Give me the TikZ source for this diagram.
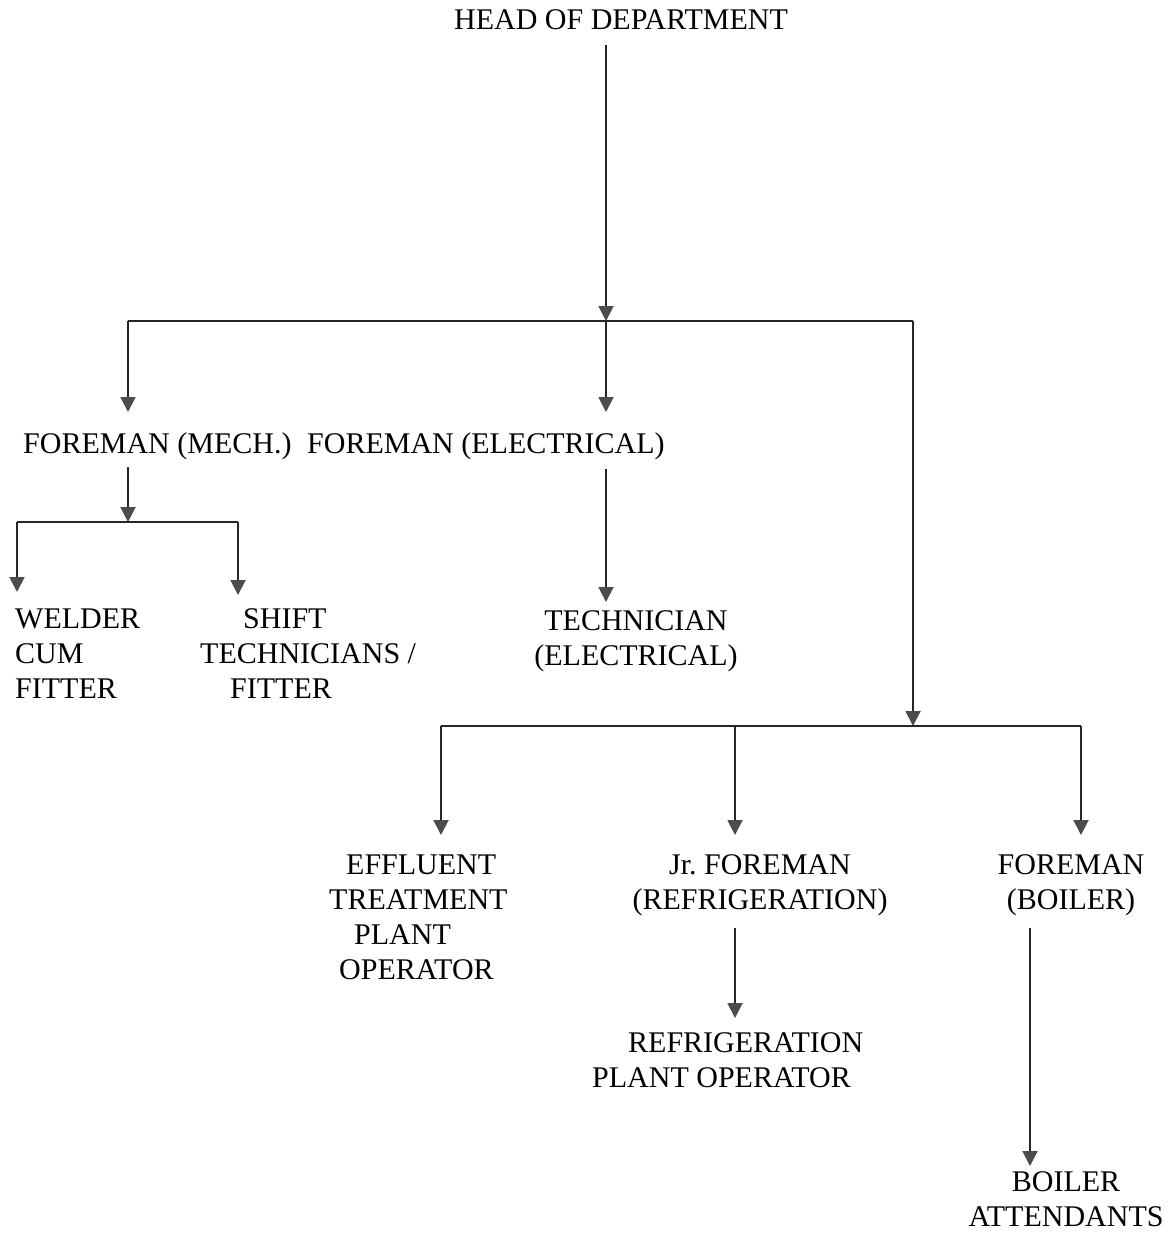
\documentclass[tikz,border=0pt]{standalone}
\usepackage{fontspec}
\setmainfont{Liberation Serif}
\usetikzlibrary{arrows.meta}
\newcommand\topstr{\rule{0pt}{25pt}}
\newcommand\botstr{\rule[-10pt]{0pt}{10pt}}
\begin{document}
\begin{tikzpicture}[x=1pt,y=1pt,
  lbl/.style={inner sep=0pt, font=\fontsize{30}{35}\selectfont, text=black, align=center, anchor=north},
  lblL/.style={lbl, anchor=north west, align=left},
  ln/.style={line width=1.9pt, draw=black!85},
  arr/.style={ln, -{Triangle[width=15pt,length=15pt,color=black!70]}},
]
\fill[white] (0,0) rectangle (1175,-1233);
\useasboundingbox (0,0) rectangle (1175,-1233);

% nodes
\node[lbl] (head) at (621,-4) {\topstr HEAD OF DEPARTMENT\botstr};
\node[lblL] (fm) at (23,-428) {\topstr FOREMAN (MECH.)\botstr};
\node[lblL] (fe) at (307,-428) {\topstr FOREMAN (ELECTRICAL)\botstr};
\node[lblL] (weld) at (15,-603) {\topstr WELDER\\CUM\\FITTER\botstr};
\node[lblL] (shift) at (200,-603) {\topstr\hspace*{43pt}SHIFT\\TECHNICIANS /\\\hspace*{30pt}FITTER\botstr};
\node[lbl] (tech) at (636,-605) {\topstr TECHNICIAN\\(ELECTRICAL)\botstr};
\node[lblL] (eff) at (329,-849) {\topstr\hspace*{17pt}EFFLUENT\\TREATMENT\\\hspace*{25pt}PLANT\\\hspace*{10pt}OPERATOR\botstr};
\node[lbl] (jr) at (760,-849) {\topstr Jr.\ FOREMAN\\(REFRIGERATION)\botstr};
\node[lbl] (boil) at (1071,-849) {\topstr FOREMAN\\(BOILER)\botstr};
\node[lblL] (rop) at (592,-1027) {\topstr\hspace*{36pt}REFRIGERATION\\PLANT OPERATOR\botstr};
\node[lbl] (batt) at (1066,-1166) {\topstr BOILER\\ATTENDANTS};

% junctions
\coordinate (j0) at (606,-321);
\coordinate (b1l) at (128,-321);
\coordinate (b1r) at (913,-321);
\coordinate (j3) at (913,-726);
\coordinate (b3l) at (441,-726);
\coordinate (b3m) at (735,-726);
\coordinate (b3r) at (1081,-726);
\coordinate (j2) at (128,-522);
\coordinate (b2l) at (17,-522);
\coordinate (b2r) at (238,-522);
\coordinate (bx) at (1030,-900);

% connectors
\draw[arr, shorten <=6pt] (head.south -| j0) -- (j0);
\draw[ln] (b1l) -- (b1r);
\draw[arr, shorten >=16pt] (b1l) -- (b1l |- fm.north);
\draw[arr, shorten >=16pt] (j0) -- (j0 |- fe.north);
\draw[arr] (b1r) -- (j3);
\draw[arr, shorten <=4pt] (fm.south -| j2) -- (j2);
\draw[ln] (b2l) -- (b2r);
\draw[arr, shorten >=11pt] (b2l) -- (b2l |- weld.north);
\draw[arr, shorten >=8pt] (b2r) -- (b2r |- shift.north);
\draw[arr, shorten <=6pt, shorten >=3pt] (fe.south -| j0) -- (j0 |- tech.north);
\draw[ln] (b3l) -- (b3r);
\draw[arr, shorten >=14pt] (b3l) -- (b3l |- eff.north);
\draw[arr, shorten >=14pt] (b3m) -- (b3m |- jr.north);
\draw[arr, shorten >=14pt] (b3r) -- (b3r |- boil.north);
\draw[arr, shorten <=9pt, shorten >=9pt] (jr.south -| b3m) -- (b3m |- rop.north);
\draw[arr, shorten <=9pt] (boil.south -| bx) -- (bx |- batt.north);
\end{tikzpicture}
\end{document}
